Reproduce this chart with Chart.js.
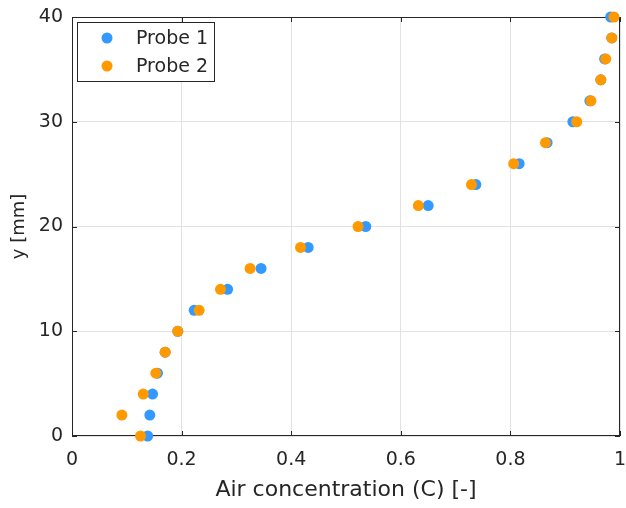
<!DOCTYPE html>
<html><head><meta charset="utf-8">
<script src="https://cdn.jsdelivr.net/npm/chart.js@4.4.0/dist/chart.umd.min.js"></script>
<style>html,body{margin:0;padding:0;background:#fff;} #wrap{width:626px;height:508px;}</style>
</head><body><div id="wrap"><canvas id="c" width="626" height="508"></canvas></div>
<script>
// y positions [mm]
const depthsMm = [0,2,4,6,8,10,12,14,16,18,20,22,24,26,28,30,32,34,36,38,40];
// Air concentration, Probe 1
const probe1 = [0.138,0.142,0.147,0.156,0.170,0.193,0.223,0.284,0.345,0.431,0.536,0.650,0.737,0.816,0.867,0.914,0.945,0.965,0.972,0.985,0.983];
// Air concentration, Probe 2
const probe2 = [0.125,0.091,0.130,0.153,0.170,0.193,0.232,0.271,0.325,0.417,0.522,0.632,0.729,0.806,0.864,0.921,0.947,0.965,0.974,0.985,0.989];
const seriesLabels = ['Probe 1','Probe 2'];
const xTickLabels = ['0','0.2','0.4','0.6','0.8','1'];
const yTickLabels = ['0','10','20','30','40'];
const xTitle = 'Air concentration (C) [-]';
const yTitle = 'y [mm]';

const BLUE = 'rgb(51,153,255)';
const ORANGE = 'rgb(255,153,0)';
const INK = '#262626';
const FONT = "'DejaVu Sans', sans-serif";

function pts(xs){ return xs.map((x,i)=>({x:x, y:depthsMm[i]})); }

const boxPlugin = {
  id:'matlabBox',
  beforeDatasetsDraw(chart){
    const {ctx, chartArea:a, scales} = chart;
    ctx.save();
    ctx.strokeStyle = INK; ctx.lineWidth = 1;
    ctx.strokeRect(Math.round(a.left)+0.5, Math.round(a.top)+0.5, Math.round(a.right-a.left)-1, Math.round(a.bottom-a.top)-1);
    const L = 5;
    ctx.beginPath();
    scales.x.ticks.forEach(t=>{
      const px = Math.round(scales.x.getPixelForValue(t.value))+0.5;
      ctx.moveTo(px, a.bottom); ctx.lineTo(px, a.bottom-L);
      ctx.moveTo(px, a.top); ctx.lineTo(px, a.top+L);
    });
    scales.y.ticks.forEach(t=>{
      const py = Math.round(scales.y.getPixelForValue(t.value))+0.5;
      ctx.moveTo(a.left, py); ctx.lineTo(a.left+L, py);
      ctx.moveTo(a.right, py); ctx.lineTo(a.right-L, py);
    });
    ctx.stroke();
    ctx.restore();
  },
  afterDraw(chart){
    const {ctx, chartArea:a} = chart;
    const x0 = a.left+5, y0 = a.top+5, w = 137, h = 59;
    ctx.save();
    ctx.fillStyle = '#fff';
    ctx.fillRect(x0+0.5, y0+0.5, w, h);
    ctx.strokeStyle = INK; ctx.lineWidth = 1;
    ctx.strokeRect(x0+0.5, y0+0.5, w, h);
    ctx.font = "19px " + FONT;
    ctx.textBaseline = 'middle';
    ctx.textAlign = 'left';
    chart.data.datasets.forEach((ds,i)=>{
      const cy = y0 + 16 + i*28;
      ctx.fillStyle = ds.backgroundColor;
      ctx.beginPath(); ctx.arc(x0+30, cy, 5.5, 0, Math.PI*2); ctx.fill();
      ctx.fillStyle = INK;
      ctx.fillText(ds.label, x0+59, cy+1);
    });
    ctx.restore();
  }
};

new Chart(document.getElementById('c'), {
  type:'scatter',
  data:{ datasets:[
    {label:seriesLabels[0], data:pts(probe1), backgroundColor:BLUE, borderWidth:0, pointRadius:5.5, pointHoverRadius:5.5, order:1, clip:false},
    {label:seriesLabels[1], data:pts(probe2), backgroundColor:ORANGE, borderWidth:0, pointRadius:5.5, pointHoverRadius:5.5, order:0, clip:false}
  ]},
  options:{
    responsive:false, animation:false, devicePixelRatio:1,
    layout:{padding:{top:17,right:6,left:0,bottom:0}},
    plugins:{legend:{display:false}, tooltip:{enabled:false}},
    scales:{
      x:{type:'linear', min:0, max:1,
        afterFit(s){ s.height = 72; s.paddingLeft = 0; s.paddingRight = 0; },
        ticks:{stepSize:0.2, color:INK, font:{family:FONT,size:19}, padding:13,
          callback:(v)=>xTickLabels[Math.round(v/0.2)] ?? ''},
        grid:{color:'#e2e2e2', drawTicks:false}, border:{display:false},
        title:{display:true, text:xTitle, color:INK, font:{family:FONT,size:22}, padding:{top:0,bottom:5}}
      },
      y:{type:'linear', min:0, max:40,
        afterFit(s){ s.width = 72; s.paddingTop = 0; s.paddingBottom = 0; },
        ticks:{stepSize:10, color:INK, font:{family:FONT,size:19}, padding:9,
          callback:(v)=>yTickLabels[Math.round(v/10)] ?? ''},
        grid:{color:'#e2e2e2', drawTicks:false}, border:{display:false},
        title:{display:true, text:yTitle, color:INK, font:{family:FONT,size:18}, padding:{top:9,bottom:0}}
      }
    }
  },
  plugins:[boxPlugin]
});
</script></body></html>
